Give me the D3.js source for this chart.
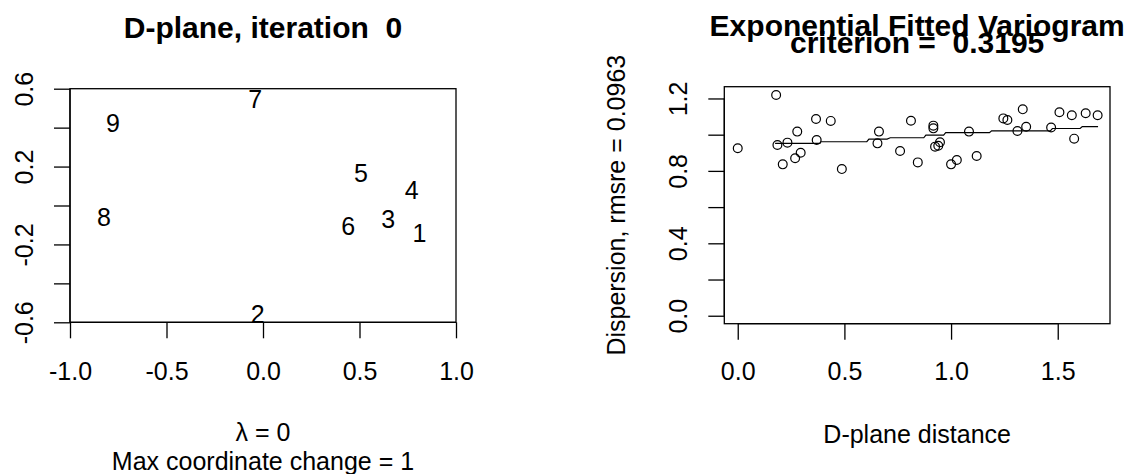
<!DOCTYPE html>
<html>
<head>
<meta charset="utf-8">
<script src="https://cdn.jsdelivr.net/npm/d3@7"></script>
<style>
  body { margin: 0; background: #fff; }
  svg { display: block; font-family: "Liberation Sans", Arial, sans-serif; }
  svg text { white-space: pre; }
</style>
</head>
<body>
<svg id="chart" width="1145" height="474"></svg>
<script>
// ---- D-plane configuration (iteration 0) ----
const siteLabels = ["1", "2", "3", "4", "5", "6", "7", "8", "9"];
const siteX = [0.81, -0.027, 0.649, 0.77, 0.508, 0.442, -0.04, -0.824, -0.777];
const siteY = [-0.143, -0.557, -0.071, 0.08, 0.168, -0.109, 0.547, -0.061, 0.425];

const planeXLimits = [-1, 1];
const planeYLimits = [-0.6, 0.6];
const planeXTicks = [-1.0, -0.5, 0.0, 0.5, 1.0];
const planeYTicks = [-0.6, -0.4, -0.2, 0.0, 0.2, 0.4, 0.6];
const planeYTickLabels = ["-0.6", "", "-0.2", "", "0.2", "", "0.6"];

// ---- Empirical variogram: pairwise D-plane distance vs dispersion ----
const pairDistance = [0.0, 0.18, 0.186, 0.233, 0.279, 0.211, 0.269, 0.295, 0.367, 0.436,
  0.37, 0.488, 0.662, 0.655, 0.812, 0.761, 0.844, 0.917, 0.917, 0.925,
  0.94, 0.948, 1.0, 1.027, 1.084, 1.12, 1.245, 1.264, 1.336, 1.311,
  1.352, 1.469, 1.508, 1.566, 1.577, 1.631, 1.687];
const pairDispersion = [0.925, 1.219, 0.943, 0.956, 1.017, 0.836, 0.87, 0.90, 1.087, 1.076,
  0.971, 0.81, 1.017, 0.952, 1.077, 0.91, 0.847, 1.05, 1.035, 0.934,
  0.939, 0.958, 0.836, 0.86, 1.017, 0.882, 1.09, 1.081, 1.14, 1.02,
  1.044, 1.04, 1.124, 1.107, 0.978, 1.118, 1.107];

// Fitted exponential variogram evaluated along the sorted distances
const fitDistance = [0.175, 0.385, 0.39, 0.605, 0.615, 0.70, 0.715, 0.872, 0.882, 0.965,
  0.975, 1.18, 1.19, 1.465, 1.475, 1.605, 1.615, 1.689];
const fitValue = [0.952, 0.952, 0.961, 0.961, 0.976, 0.976, 0.983, 0.983, 0.998, 0.998,
  1.011, 1.011, 1.021, 1.021, 1.034, 1.034, 1.045, 1.045];

const vgXLimits = [-0.063, 1.745];
const vgYLimits = [-0.044, 1.265];
const vgXTicks = [0.0, 0.5, 1.0, 1.5];
const vgYTicks = [0.0, 0.2, 0.4, 0.6, 0.8, 1.0, 1.2];
const vgYTickLabels = ["0.0", "", "0.4", "", "0.8", "", "1.2"];

const titlePlane = "D-plane, iteration  0";
const titleVg = "Exponential Fitted Variogram";
const subtitleVg = "criterion =  0.3195";
const xLabelPlane = ["λ = 0", "Max coordinate change = 1"];
const xLabelVg = "D-plane distance";
const yLabelVg = "Dispersion, rmsre = 0.0963";

// ---- drawing ----
const svg = d3.select("#chart");
const FS = 25, FS_TITLE = 30, TICK = 16, LW = 1.3;

function panel(box, xLim, yLim) {
  return {
    box,
    x: d3.scaleLinear().domain(xLim).range([box.left, box.right]),
    y: d3.scaleLinear().domain(yLim).range([box.bottom, box.top])
  };
}

function drawAxes(p, xTicks, yTicks, yLabels) {
  const g = svg.append("g");
  // bottom axis
  const ax = g.append("g").attr("transform", `translate(0,${p.box.bottom})`)
    .call(d3.axisBottom(p.x).tickValues(xTicks).tickSize(TICK).tickFormat(d => d.toFixed(1)));
  ax.select(".domain").remove();
  ax.append("line")
    .attr("x1", p.x(xTicks[0])).attr("x2", p.x(xTicks[xTicks.length - 1]))
    .attr("stroke", "#000").attr("stroke-width", LW);
  ax.selectAll(".tick line").attr("stroke", "#000").attr("stroke-width", LW);
  ax.selectAll(".tick text")
    .attr("y", 380 - p.box.bottom).attr("dy", null)
    .attr("fill", "#000").attr("font-size", FS);
  ax.attr("font-size", null).attr("font-family", null);

  // left axis, labels rotated parallel to the axis
  const ay = g.append("g").attr("transform", `translate(${p.box.left},0)`)
    .call(d3.axisLeft(p.y).tickValues(yTicks).tickSize(TICK).tickFormat((d, i) => yLabels[i]));
  ay.select(".domain").remove();
  ay.append("line")
    .attr("y1", p.y(yTicks[0])).attr("y2", p.y(yTicks[yTicks.length - 1]))
    .attr("stroke", "#000").attr("stroke-width", LW);
  ay.selectAll(".tick line").attr("stroke", "#000").attr("stroke-width", LW);
  ay.selectAll(".tick text")
    .attr("x", null).attr("dy", "0.35em")
    .attr("text-anchor", "middle")
    .attr("transform", "translate(-46,0) rotate(-90)")
    .attr("fill", "#000").attr("font-size", FS);
  ay.attr("text-anchor", null).attr("font-size", null).attr("font-family", null);

  // frame
  g.append("rect")
    .attr("x", p.box.left).attr("y", p.box.top)
    .attr("width", p.box.right - p.box.left).attr("height", p.box.bottom - p.box.top)
    .attr("fill", "none").attr("stroke", "#000").attr("stroke-width", LW);
}

function text(x, y, s, opts = {}) {
  return svg.append("text")
    .attr("x", x).attr("y", y)
    .attr("text-anchor", "middle")
    .attr("font-size", opts.size || FS)
    .attr("font-weight", opts.bold ? "bold" : "normal")
    .attr("fill", "#000")
    .text(s);
}

// Left: D-plane
const plane = panel({ left: 70, right: 456, top: 88.7, bottom: 322.3 }, planeXLimits, planeYLimits);
drawAxes(plane, planeXTicks, planeYTicks, planeYTickLabels);

svg.append("g").selectAll("text")
  .data(siteLabels)
  .join("text")
  .attr("x", (d, i) => plane.x(siteX[i]))
  .attr("y", (d, i) => plane.y(siteY[i]))
  .attr("dy", "0.35em")
  .attr("text-anchor", "middle")
  .attr("font-size", FS)
  .attr("fill", "#000")
  .text(d => d);

const planeCx = (plane.box.left + plane.box.right) / 2;
text(planeCx, 38.3, titlePlane, { size: FS_TITLE, bold: true });
text(planeCx, 441, xLabelPlane[0]);
text(planeCx, 469.5, xLabelPlane[1]);

// Right: variogram
const vg = panel({ left: 724.3, right: 1110, top: 86.7, bottom: 323.7 }, vgXLimits, vgYLimits);
drawAxes(vg, vgXTicks, vgYTicks, vgYTickLabels);

svg.append("path")
  .datum(fitDistance.map((d, i) => [d, fitValue[i]]))
  .attr("d", d3.line().x(d => vg.x(d[0])).y(d => vg.y(d[1])))
  .attr("fill", "none").attr("stroke", "#000").attr("stroke-width", 1.2);

svg.append("g").selectAll("circle")
  .data(pairDistance)
  .join("circle")
  .attr("cx", d => vg.x(d))
  .attr("cy", (d, i) => vg.y(pairDispersion[i]))
  .attr("r", 4.4)
  .attr("fill", "none").attr("stroke", "#000").attr("stroke-width", 1.2);

const vgCx = (vg.box.left + vg.box.right) / 2;
text(vgCx, 36, titleVg, { size: FS_TITLE, bold: true });
text(vgCx, 53.3, subtitleVg, { size: FS_TITLE, bold: true });
text(vgCx, 443, xLabelVg);
svg.append("text")
  .attr("transform", `translate(616.7,${(vg.box.top + vg.box.bottom) / 2}) rotate(-90)`)
  .attr("dy", "0.35em")
  .attr("text-anchor", "middle")
  .attr("font-size", FS)
  .attr("fill", "#000")
  .text(yLabelVg);
</script>
</body>
</html>
